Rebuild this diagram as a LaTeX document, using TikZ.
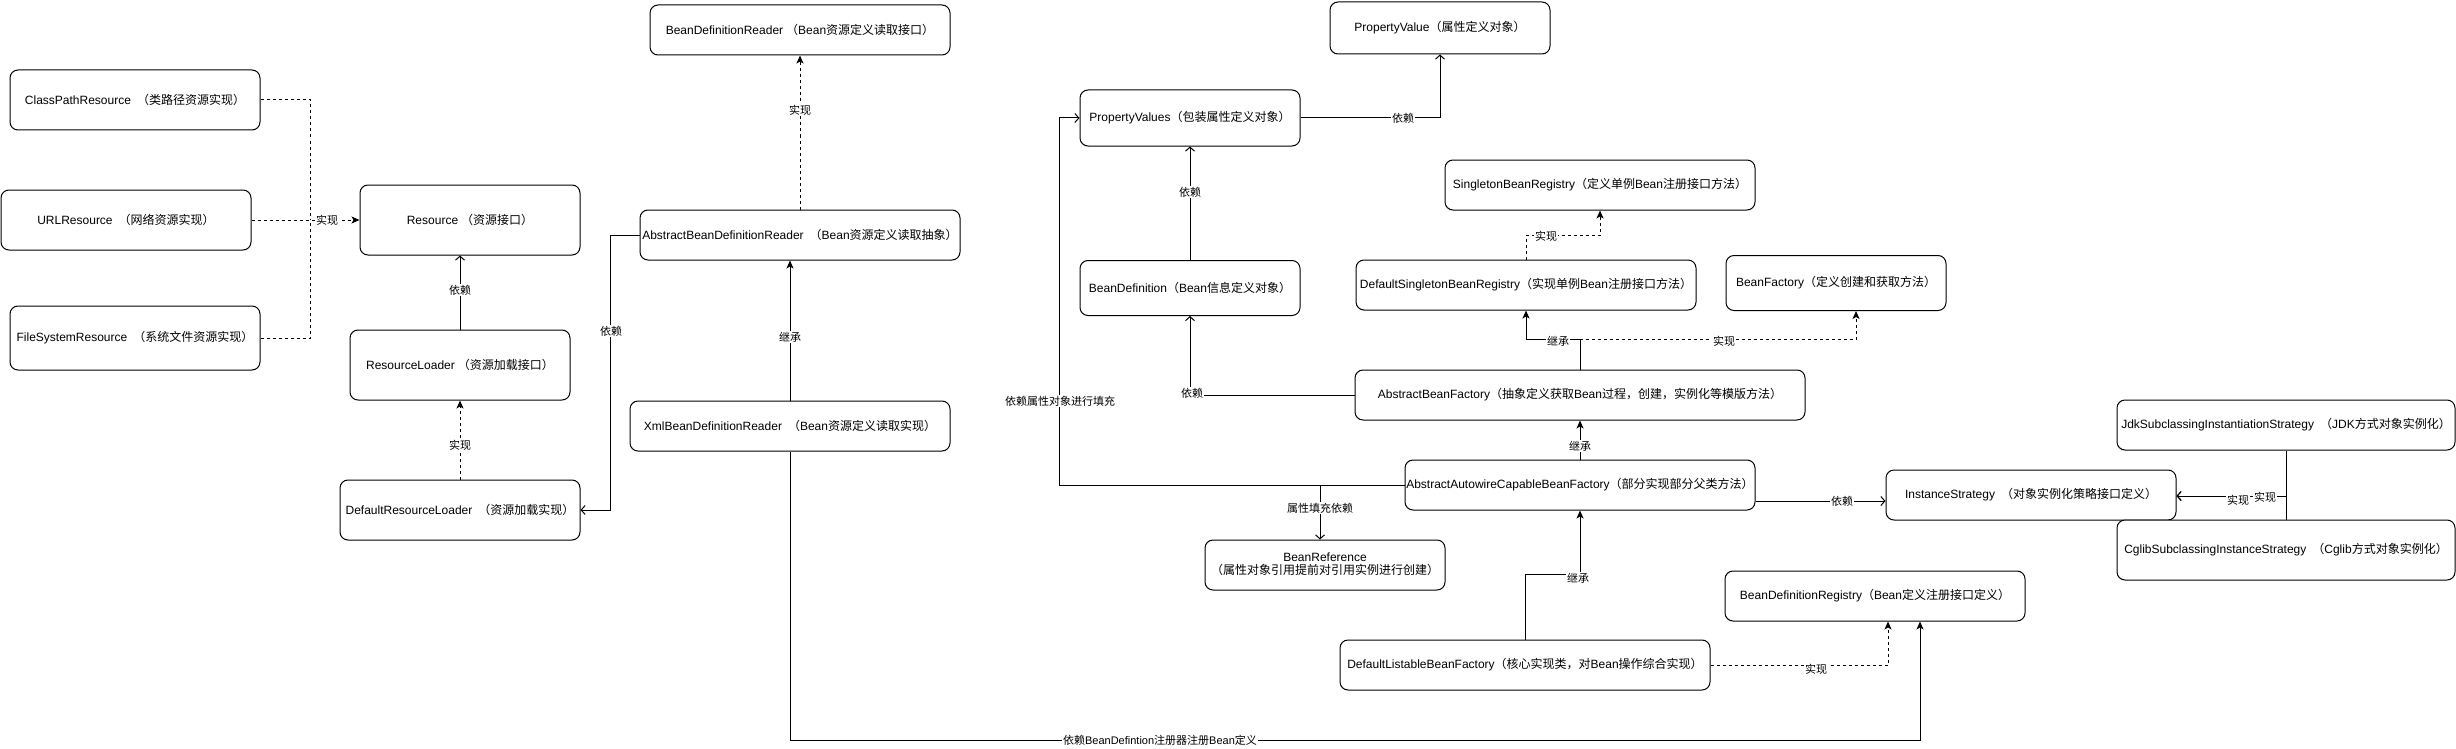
\documentclass[tikz,border=0pt]{standalone}
\usepackage{fontspec}
\setmainfont{Liberation Sans}
\newfontfamily\cjk{Noto Sans CJK SC}
\newcommand\zh[1]{{\cjk #1}}
\newcommand\lat[1]{{\rmfamily #1}}
\newcommand\bx[1]{\makebox[0pt]{#1}}
\usetikzlibrary{arrows.meta}
\begin{document}
\begin{tikzpicture}[x=1pt,y=-1pt,
  box/.style={draw=black, line width=1pt, rounded corners=8pt, fill=white, inner sep=0pt, font=\fontsize{12}{14}\selectfont},
  lbl/.style={fill=white, inner sep=1pt, font=\cjk\fontsize{11}{13}\selectfont},
  con/.style={line width=1pt, draw=black},
  dsh/.style={con, dash pattern=on 3pt off 3pt},
  fa/.style={-{Stealth[length=8pt,width=7pt,inset=2pt]}},
  oa/.style={-{Straight Barb[length=4pt,width=9pt]}}]
\useasboundingbox (0,0) rectangle (2456,749);

% nodes
\node[box,minimum width=250pt,minimum height=60pt] (cp) at (135,100) {\bx{ClassPathResource\hspace{6pt}\zh{（类路径资源实现）}}};
\node[box,minimum width=250pt,minimum height=60pt] (url) at (126,220) {\bx{URLResource\hspace{6pt}\zh{（网络资源实现）}}};
\node[box,minimum width=250pt,minimum height=64pt] (fs) at (135,338) {\bx{FileSystemResource\hspace{6pt}\zh{（系统文件资源实现）}}};
\node[box,minimum width=220pt,minimum height=70pt] (res) at (470,220) {\bx{Resource\hspace{3pt}\zh{（资源接口）}}};
\node[box,minimum width=220pt,minimum height=70pt] (rl) at (460,365) {\bx{ResourceLoader\hspace{3pt}\zh{（资源加载接口）}}};
\node[box,minimum width=240pt,minimum height=60pt] (drl) at (460,510) {\bx{DefaultResourceLoader\hspace{6pt}\zh{（资源加载实现）}}};
\node[box,minimum width=300pt,minimum height=50pt] (bdr) at (800,30) {\bx{BeanDefinitionReader\hspace{3pt}\zh{（}Bean\zh{资源定义读取接口）}}};
\node[box,minimum width=320pt,minimum height=50pt] (abdr) at (800,235) {\bx{AbstractBeanDefinitionReader\hspace{6pt}\zh{（}Bean\zh{资源定义读取抽象）}}};
\node[box,minimum width=320pt,minimum height=50pt] (xbdr) at (790,426) {\bx{XmlBeanDefinitionReader\hspace{6pt}\zh{（}Bean\zh{资源定义读取实现）}}};
\node[box,minimum width=220pt,minimum height=52pt] (pv) at (1440,28) {\bx{PropertyValue\zh{（属性定义对象）}}};
\node[box,minimum width=220pt,minimum height=56pt] (pvs) at (1190,118) {\bx{PropertyValues\zh{（包装属性定义对象）}}};
\node[box,minimum width=310pt,minimum height=50pt] (sbr) at (1600,185) {\bx{SingletonBeanRegistry\zh{（定义单例}Bean\zh{注册接口方法）}}};
\node[box,minimum width=220pt,minimum height=55pt] (bd) at (1190,288) {\bx{BeanDefinition\zh{（}Bean\zh{信息定义对象）}}};
\node[box,minimum width=340pt,minimum height=50pt] (dsbr) at (1526,285) {\bx{DefaultSingletonBeanRegistry\zh{（实现单例}Bean\zh{注册接口方法）}}};
\node[box,minimum width=220pt,minimum height=55pt] (bf) at (1836,283) {\bx{BeanFactory\zh{（定义创建和获取方法）}}};
\node[box,minimum width=450pt,minimum height=50pt] (abf) at (1580,395) {\bx{AbstractBeanFactory\zh{（抽象定义获取}Bean\zh{过程，创建，实例化等模版方法）}}};
\node[box,minimum width=350pt,minimum height=50pt] (aacbf) at (1580,485) {\bx{AbstractAutowireCapableBeanFactory\zh{（部分实现部分父类方法）}}};
\node[box,minimum width=240pt,minimum height=50pt] (bref) at (1325,565) {\bx{\begin{tabular}{@{}c@{}}BeanReference\\[-1pt]\zh{（属性对象引用提前对引用实例进行创建）}\end{tabular}}};
\node[box,minimum width=290pt,minimum height=50pt] (is) at (2031,495) {\bx{InstanceStrategy\hspace{6pt}\zh{（对象实例化策略接口定义）}}};
\node[box,minimum width=338pt,minimum height=50pt] (jdk) at (2286,425) {\bx{JdkSubclassingInstantiationStrategy\hspace{6pt}\zh{（}JDK\zh{方式对象实例化）}}};
\node[box,minimum width=338pt,minimum height=60pt] (cglib) at (2286,550) {\bx{CglibSubclassingInstanceStrategy\hspace{6pt}\zh{（}Cglib\zh{方式对象实例化）}}};
\node[box,minimum width=300pt,minimum height=50pt] (bdreg) at (1875,596) {\bx{BeanDefinitionRegistry\zh{（}Bean\zh{定义注册接口定义）}}};
\node[box,minimum width=370pt,minimum height=50pt] (dlbf) at (1525,665) {\bx{DefaultListableBeanFactory\zh{（核心实现类，对}Bean\zh{操作综合实现）}}};

% connectors
\coordinate (j1) at (310,220);
\draw[dsh] (cp.east) -| (j1);
\draw[dsh] (fs.east) -| (j1);
\draw[dsh,fa] (url.east) -- (res.west);
\draw[con,oa] (rl.north) -- (rl.north |- res.south);
\draw[dsh,fa] (drl.north) -- (rl.south);
\draw[con,oa] (abdr.west) -- ++(-29,0) |- (drl.east);
\draw[dsh,fa] (abdr.north) -- (bdr.south);
\draw[con,fa] (xbdr.north) -- (xbdr.north |- abdr.south);
\draw[con,fa] (xbdr.south) -- (xbdr.south |- 0,740) -| ([xshift=45pt]bdreg.south);
\draw[con,oa] (pvs.east) -| (pv.south);
\draw[con,oa] (bd.north) -- (pvs.south);
\draw[dsh,fa] (dsbr.north) -- ++(0,-24) -| (sbr.south);
\draw[dsh,fa] (abf.north) -- ++(0,-30) -| ([xshift=20pt]bf.south);
\draw[con,fa] (abf.north) -- ++(0,-30) -| (dsbr.south);
\draw[con,oa] (abf.west) -| (bd.south);
\draw[con,oa] (aacbf.west) -| ([xshift=-20pt]pvs.west) -- (pvs.west);
\draw[con,oa] (aacbf.west) -| ([xshift=-5pt]bref.north);
\draw[con,fa] (aacbf.north) -- (abf.south);
\draw[con,oa] ([yshift=-16pt]aacbf.east) -- ([yshift=-6pt]is.west);
\draw[con,fa] (dlbf.north) -- ++(0,-65) -| (aacbf.south);
\draw[dsh,fa] (dlbf.east) -| ([xshift=13pt]bdreg.south);
\draw[con,oa] (jdk.south) |- ([yshift=-1pt]is.east);
\draw[con,oa] (cglib.north) |- ([yshift=-1pt]is.east);

% labels
\node[lbl] at (327,220) {实现};
\node[lbl] at (460,290) {依赖};
\node[lbl] at (460,445) {实现};
\node[lbl] at (611,331) {依赖};
\node[lbl] at (800,110) {实现};
\node[lbl] at (790,337) {继承};
\node[lbl] at (1160,740) {依赖\lat{BeanDefintion}注册器注册\lat{Bean}定义};
\node[lbl] at (1403,118) {依赖};
\node[lbl] at (1190,192) {依赖};
\node[lbl] at (1546,236) {实现};
\node[lbl] at (1558,341) {继承};
\node[lbl] at (1724,341) {实现};
\node[lbl] at (1192,393) {依赖};
\node[lbl] at (1060,401) {依赖属性对象进行填充};
\node[lbl] at (1320,508) {属性填充依赖};
\node[lbl] at (1580,446) {继承};
\node[lbl] at (1842,501) {依赖};
\node[lbl] at (1578,578) {继承};
\node[lbl] at (1816,669) {实现};
\node[lbl] at (2238,500) {实现};
\node[lbl] at (2265,497) {实现};
\end{tikzpicture}
\end{document}
